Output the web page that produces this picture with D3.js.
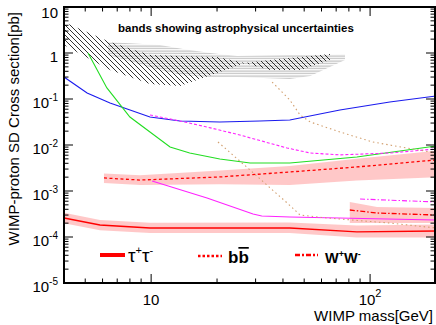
<!DOCTYPE html>
<html>
<head>
<meta charset="utf-8">
<script src="https://cdn.jsdelivr.net/npm/d3@7"></script>
<style>
  body { margin: 0; background: #fff; }
  text { font-family: "Liberation Sans", Arial, sans-serif; }
</style>
</head>
<body>
<div id="chart"></div>
<script>
// ---- data (WIMP mass in GeV, cross section in pb) ----
const blueMass = [4, 5.1, 6.49, 9.88, 13.55, 20.6, 31.4, 43, 72.8, 123, 200];
const blueSigma = [0.30, 0.135, 0.082, 0.0406, 0.0333, 0.0316, 0.0333, 0.035, 0.0577, 0.086, 0.116];

const greenMass = [5.15, 6.28, 8.0, 12.2, 15.0, 20.6, 28.3, 43, 87, 200];
const greenSigma = [1.0, 0.174, 0.0406, 0.00905, 0.0067, 0.00496, 0.00406, 0.00406, 0.0055, 0.0095];

const magDashMass = [9.88, 13.55, 18, 25.4, 41.8, 53.3, 72.8, 123, 200];
const magDashSigma = [0.0449, 0.0333, 0.0246, 0.0165, 0.0086, 0.0067, 0.0061, 0.0067, 0.0082];

const magSolidMass = [10.1, 18, 29.2, 32, 43, 200];
const magSolidSigma = [0.00165, 0.000705, 0.000316, 0.000286, 0.000272, 0.000234];

const magDotDashMass = [90, 200];
const magDotDashSigma = [0.00067, 0.000577];

const tan1Mass = [35.7, 43, 47.9, 53.3, 72.8, 103, 147, 200];
const tan1Sigma = [0.234, 0.095, 0.0449, 0.0316, 0.0192, 0.0116, 0.0086, 0.0067];

const tan2Mass = [20.2, 28.3, 41.8, 47.9, 63.6, 123, 200];
const tan2Sigma = [0.0116, 0.00286, 0.00055, 0.0003, 0.000259, 0.000201, 0.000157];

const tauMass = [4, 5.84, 9.88, 43, 87, 200];
const tauSigma = [0.000259, 0.000182, 0.000157, 0.000157, 0.000129, 0.000135];
const tauLo = [0.000200, 0.000140, 0.000122, 0.000122, 0.000097, 0.000097];
const tauHi = [0.000335, 0.000235, 0.000203, 0.000207, 0.000178, 0.000188];

const bbMass = [6.09, 8.9, 20.6, 43, 87, 200];
const bbSigma = [0.00192, 0.00173, 0.00202, 0.00259, 0.00333, 0.00472];
const bbLo = [0.0015, 0.00135, 0.0014, 0.00135, 0.0017, 0.0020];
const bbHi = [0.0024, 0.0022, 0.0028, 0.0035, 0.0050, 0.0075];

const wwMass = [80.8, 107.6, 200];
const wwSigma = [0.000386, 0.000333, 0.0003];
const wwLo = [0.000201, 0.000201, 0.000201];
const wwHi = [0.000577, 0.000449, 0.000427];

// astrophysical uncertainty bands
const diagMass = [4, 6.49, 9.88, 13.55, 20, 26.8, 34.9, 47.9, 65.6];
const diagHi = [4.72, 1.73, 0.905, 0.861, 0.819, 0.607, 0.705, 0.819, 0.951];
const diagLo = [1.49, 0.427, 0.212, 0.192, 0.367, 0.607, 0.427, 0.427, 0.705];

const horizMass = [6.35, 10.96, 13.96, 18.6, 24.7, 43, 53.3, 76.8];
const horizHi = [1.73, 1.49, 1.22, 1.0, 0.861, 0.905, 0.905, 0.951];
const horizLo = [0.905, 0.427, 0.33, 0.301, 0.301, 0.272, 0.316, 0.705];

const yMajor = [1e-5, 1e-4, 1e-3, 1e-2, 1e-1, 1, 10];
const yLabels = [["10", "-5"], ["10", "-4"], ["10", "-3"], ["10", "-2"], ["10", "-1"], ["1", ""], ["10", ""]];
const xMajor = [10, 100];
const xLabels = [["10", ""], ["10", "2"]];

// ---- layout ----
const W = 436, H = 325;
const svg = d3.select("#chart").append("svg")
  .attr("width", W).attr("height", H);

const x = d3.scaleLog().domain([4, 200]).range([64, 436]);
const y = d3.scaleLog().domain([1e-5, 10]).range([283, 7]);

const defs = svg.append("defs");
defs.append("clipPath").attr("id", "clip")
  .append("rect").attr("x", 64).attr("y", 7).attr("width", 372).attr("height", 276);

const diag = defs.append("pattern").attr("id", "diag")
  .attr("patternUnits", "userSpaceOnUse").attr("width", 5).attr("height", 5);
diag.append("path").attr("d", "M-1,-1 L6,6 M-6,-1 L1,6 M4,-1 L11,6")
  .attr("stroke", "#000").attr("stroke-width", 0.8);

const horiz = defs.append("pattern").attr("id", "horiz")
  .attr("patternUnits", "userSpaceOnUse").attr("width", 8).attr("height", 2.5);
horiz.append("line").attr("x1", 0).attr("x2", 8).attr("y1", 1).attr("y2", 1)
  .attr("stroke", "#999").attr("stroke-width", 0.8);

const plot = svg.append("g").attr("clip-path", "url(#clip)");

const area = d3.area()
  .x(d => x(d[0])).y0(d => y(d[1])).y1(d => y(d[2]));
const line = d3.line().x(d => x(d[0])).y(d => y(d[1]));

const zip3 = (m, lo, hi) => m.map((v, i) => [v, lo[i], hi[i]]);
const zip2 = (m, s) => m.map((v, i) => [v, s[i]]);

// hatched bands
plot.append("path").attr("d", area(zip3(horizMass, horizLo, horizHi)))
  .attr("fill", "url(#horiz)");
plot.append("path").attr("d", area(zip3(diagMass, diagLo, diagHi)))
  .attr("fill", "url(#diag)");

// pink uncertainty bands
const bandColor = "#ffbaba";
[[tauMass, tauLo, tauHi], [bbMass, bbLo, bbHi], [wwMass, wwLo, wwHi]].forEach(b => {
  plot.append("path").attr("d", area(zip3(b[0], b[1], b[2])))
    .attr("fill", bandColor).attr("opacity", 0.8);
});

const curves = [
  { m: blueMass, s: blueSigma, color: "#1a1aee", w: 1.1, dash: null },
  { m: greenMass, s: greenSigma, color: "#22dd22", w: 1.1, dash: null },
  { m: magDashMass, s: magDashSigma, color: "#ff22ff", w: 1.1, dash: "3,2" },
  { m: magSolidMass, s: magSolidSigma, color: "#ff22ff", w: 1.1, dash: null },
  { m: magDotDashMass, s: magDotDashSigma, color: "#ff22ff", w: 1.1, dash: "5,2,1.5,2" },
  { m: tan1Mass, s: tan1Sigma, color: "#d2a070", w: 1.1, dash: "1.5,3" },
  { m: tan2Mass, s: tan2Sigma, color: "#d2a070", w: 1.1, dash: "1.5,3" },
  { m: tauMass, s: tauSigma, color: "#ff0000", w: 1.4, dash: null },
  { m: bbMass, s: bbSigma, color: "#ff0000", w: 1.3, dash: "3,2.5" },
  { m: wwMass, s: wwSigma, color: "#ff0000", w: 1.3, dash: "5,2,1.5,2" }
];
curves.forEach(c => {
  plot.append("path").attr("d", line(zip2(c.m, c.s)))
    .attr("fill", "none").attr("stroke", c.color)
    .attr("stroke-width", c.w).attr("stroke-dasharray", c.dash);
});

// ---- axes ----
const yTicks = [];
for (let e = -5; e < 1; e++) for (let k = 1; k < 10; k++) yTicks.push(k * Math.pow(10, e));
yTicks.push(10);
const xTicks = [4, 5, 6, 7, 8, 9, 10, 20, 30, 40, 50, 60, 70, 80, 90, 100, 200];
const isMajor = v => Math.abs(Math.log10(v) - Math.round(Math.log10(v))) < 1e-6;

const axisG = svg.append("g").attr("stroke", "#000");
yTicks.forEach(v => {
  const len = isMajor(v) ? 9 : 4.5;
  axisG.append("line").attr("x1", 64).attr("x2", 64 + len).attr("y1", y(v)).attr("y2", y(v));
  axisG.append("line").attr("x1", 435).attr("x2", 435 - len).attr("y1", y(v)).attr("y2", y(v));
});
xTicks.forEach(v => {
  const len = isMajor(v) ? 9 : 4.5;
  axisG.append("line").attr("x1", x(v)).attr("x2", x(v)).attr("y1", 283).attr("y2", 283 - len);
  axisG.append("line").attr("x1", x(v)).attr("x2", x(v)).attr("y1", 7).attr("y2", 7 + len);
});
svg.append("rect").attr("x", 64).attr("y", 7).attr("width", 371).attr("height", 276)
  .attr("fill", "none").attr("stroke", "#000").attr("stroke-width", 2);

yMajor.forEach((v, i) => {
  const t = svg.append("text").attr("x", 58).attr("y", Math.max(y(v) + 8.5, 17.5))
    .attr("text-anchor", "end").attr("font-size", 15);
  t.append("tspan").text(yLabels[i][0]);
  if (yLabels[i][1]) t.append("tspan").attr("dy", -7).attr("font-size", 10).text(yLabels[i][1]);
});
xMajor.forEach((v, i) => {
  const t = svg.append("text").attr("x", x(v)).attr("y", 305)
    .attr("text-anchor", "middle").attr("font-size", 15);
  t.append("tspan").text(xLabels[i][0]);
  if (xLabels[i][1]) t.append("tspan").attr("dy", -8).attr("font-size", 11).text(xLabels[i][1]);
});

svg.append("text").attr("x", 433).attr("y", 321).attr("text-anchor", "end")
  .attr("font-size", 15).text("WIMP mass[GeV]");
svg.append("text").attr("transform", "translate(18.5,12) rotate(-90)")
  .attr("text-anchor", "end").attr("font-size", 15)
  .text("WIMP-proton SD Cross section[pb]");

svg.append("text").attr("x", 118).attr("y", 32).attr("font-size", 11.5)
  .attr("font-weight", "bold").text("bands showing astrophysical uncertainties");

// ---- legend ----
const leg = svg.append("g");
leg.append("line").attr("x1", 100).attr("x2", 125).attr("y1", 255).attr("y2", 255)
  .attr("stroke", "#ff0000").attr("stroke-width", 4);
const tauT = leg.append("text").attr("x", 128).attr("y", 262).attr("font-size", 19);
tauT.append("tspan").text("τ");
tauT.append("tspan").attr("dy", -8).attr("font-size", 11).text("+");
tauT.append("tspan").attr("dy", 8).text("τ");
tauT.append("tspan").attr("dy", -8).attr("font-size", 11).text("-");

leg.append("line").attr("x1", 198).attr("x2", 222).attr("y1", 256).attr("y2", 256)
  .attr("stroke", "#ff0000").attr("stroke-width", 2.5).attr("stroke-dasharray", "2.5,2");
const bbT = leg.append("text").attr("x", 228).attr("y", 263).attr("font-size", 17)
  .attr("font-weight", "bold");
bbT.append("tspan").text("b");
bbT.append("tspan").style("text-decoration", "overline").text("b");

leg.append("line").attr("x1", 295).attr("x2", 318).attr("y1", 255).attr("y2", 255)
  .attr("stroke", "#ff0000").attr("stroke-width", 2.5).attr("stroke-dasharray", "5,2,2,2");
const wwT = leg.append("text").attr("x", 325).attr("y", 263).attr("font-size", 14.5)
  .attr("font-weight", "bold");
wwT.append("tspan").text("W");
wwT.append("tspan").attr("dy", -6).attr("font-size", 9).text("+");
wwT.append("tspan").attr("dy", 6).text("W");
wwT.append("tspan").attr("dy", -6).attr("font-size", 9).text("-");
</script>
</body>
</html>
